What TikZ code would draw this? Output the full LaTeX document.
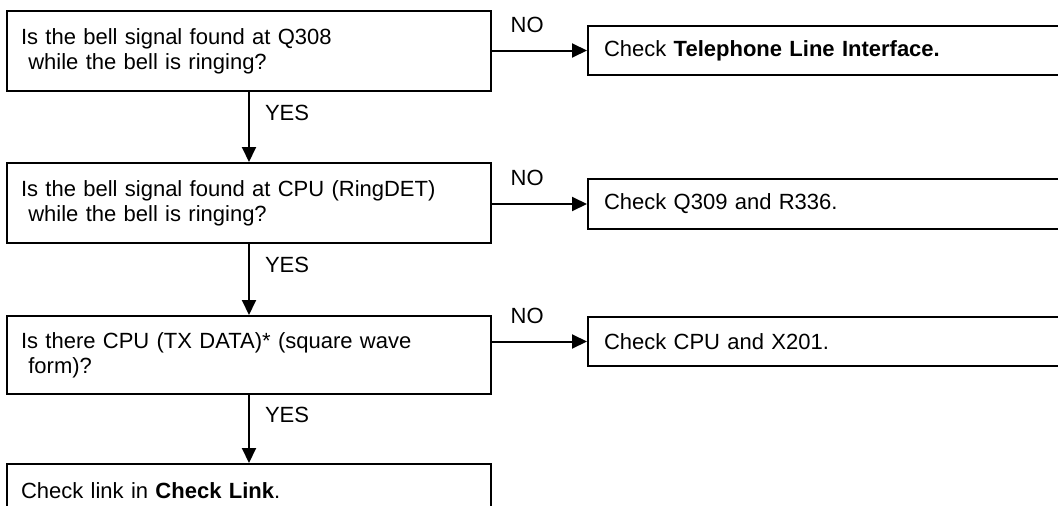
\documentclass[tikz,border=0pt]{standalone}
\usepackage{fontspec}
\setmainfont{Liberation Sans}
\usetikzlibrary{arrows.meta}

\begin{document}
\begin{tikzpicture}[
    x=1pt, y=-1pt,
    every node/.style={font=\fontsize{22}{25}\selectfont},
    question/.style={rectangle, draw, line width=2pt, anchor=north west, text width=456pt, inner xsep=14pt, inner ysep=0pt, align=left, minimum height=80pt},
    check/.style={rectangle, draw, line width=2pt, anchor=north west, text width=480pt, inner xsep=16pt, inner ysep=0pt, align=left, minimum height=49pt},
    answer/.style={inner sep=3pt},
    arrow/.style={-{Triangle[length=15pt, width=14pt]}, line width=2pt}
  ]
    \clip (0,0) rectangle (1058,506);

    \node[question] (q1) at (6,10) {Is the bell signal found at Q308\\\ while the bell is ringing?};
    \node[question] (q2) at (6,162) {Is the bell signal found at CPU (RingDET)\\\ while the bell is ringing?};
    \node[question, minimum height=78pt] (q3) at (6,315) {Is there CPU (TX DATA)* (square wave\\\ form)?};
    \node[question, minimum height=54pt] (q4) at (6,463) {Check link in \textbf{Check Link}.};

    \node[check] (c1) at (587,25) {Check \textbf{Telephone Line Interface.}};
    \node[check, minimum height=50pt] (c2) at (587,178) {Check Q309 and R336.};
    \node[check] (c3) at (587,316) {Check CPU and X201.};

    \draw[arrow] (q1) -- node[answer, pos=0.3, right=12pt] {YES} (q2);
    \draw[arrow] (q2) -- node[answer, pos=0.3, right=12pt] {YES} (q3);
    \draw[arrow] (q3) -- node[answer, pos=0.3, right=12pt] {YES} (q4);
    \draw[arrow] (q1.east |- c1.west) -- node[answer, pos=0.37, above=14pt] {NO} (c1.west);
    \draw[arrow] (q2.east |- c2.west) -- node[answer, pos=0.37, above=14pt] {NO} (c2.west);
    \draw[arrow] (q3.east |- c3.west) -- node[answer, pos=0.37, above=14pt] {NO} (c3.west);
  \end{tikzpicture}
\end{document}
